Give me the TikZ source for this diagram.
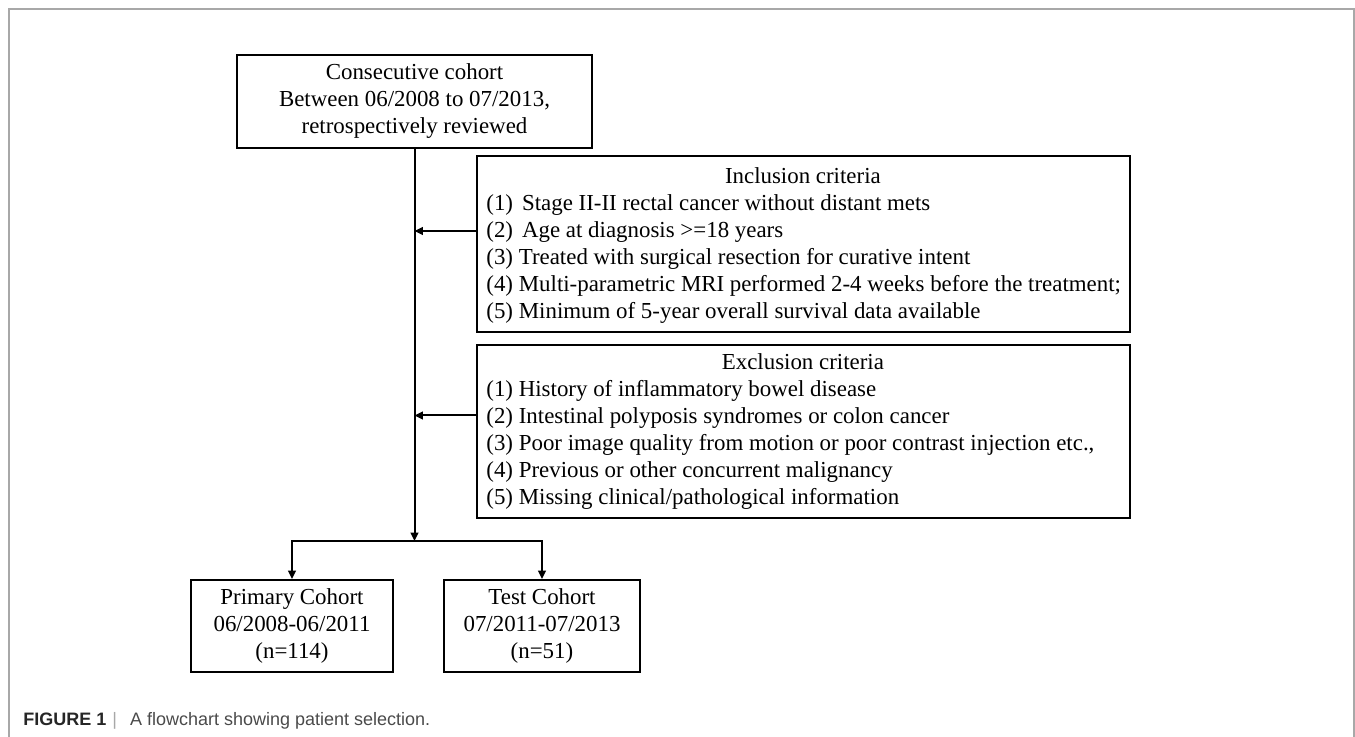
\documentclass[tikz,border=0pt]{standalone}
\usepackage{fontspec}
\setmainfont{Liberation Serif}
\newfontfamily\capfont{Liberation Sans}
\usetikzlibrary{arrows.meta}
\definecolor{framegray}{HTML}{A8A8A8}
\definecolor{captxt}{HTML}{4A4A4A}
\begin{document}
\begin{tikzpicture}[x=0.5pt,y=-0.5pt,
  txtfont/.style={font=\fontsize{11.45}{13.5}\selectfont},
  box/.style={draw, line width=1pt, inner xsep=5pt, inner ysep=0pt, txtfont},
  critbox/.style={draw, line width=1pt, inner sep=0pt, minimum width=326.5pt},
  crittext/.style={txtfont, inner sep=0pt, align=left, anchor=west},
  arr/.style={line width=1pt, -{Triangle[length=4.2pt,width=3.8pt]}}]
\useasboundingbox (0,0) rectangle (1355,737);
\draw[framegray, line width=0.9pt] (9,737) -- (9,9) -- (1354,9) -- (1354,737);

\node[box, minimum width=177.5pt, minimum height=46.5pt, align=center] (top) at (414.5,101.5)
  {Consecutive cohort\\Between 06/2008 to 07/2013,\\retrospectively reviewed};

\node[critbox, minimum height=88pt] (inc) at (803.5,244) {};
\node[crittext] (inctxt) at ([xshift=5pt,yshift=-1pt]inc.west)
  {\makebox[316.5pt][c]{Inclusion criteria}\\
   (1)\hspace{4.5pt}Stage II-II rectal cancer without distant mets\\
   (2)\hspace{4.5pt}Age at diagnosis >=18 years\\
   (3) Treated with surgical resection for curative intent\\
   (4) Multi-parametric MRI performed 2-4 weeks before the treatment;\\
   (5) Minimum of 5-year overall survival data available};

\node[critbox, minimum height=86.5pt] (exc) at (803.5,431.5) {};
\node[crittext] (exctxt) at ([xshift=5pt]exc.west)
  {\makebox[316.5pt][c]{Exclusion criteria}\\
   (1) History of inflammatory bowel disease\\
   (2) Intestinal polyposis syndromes or colon cancer\\
   (3) Poor image quality from motion or poor contrast injection etc.,\\
   (4) Previous or other concurrent malignancy\\
   (5) Missing clinical/pathological information};

\node[box, minimum width=101pt, minimum height=46pt, align=center] (pri) at (292,626)
  {Primary Cohort\\06/2008-06/2011\\(n=114)};
\node[box, minimum width=98pt, minimum height=46pt, align=center] (tst) at (542,626)
  {Test Cohort\\07/2011-07/2013\\(n=51)};

\coordinate (j) at (414.5,541);
\draw[arr] (top.south) -- (j);
\draw[arr] ([yshift=6.5pt]inc.west) -- ([yshift=6.5pt]inc.west -| top.south);
\draw[arr] ([yshift=8pt]exc.west) -- ([yshift=8pt]exc.west -| top.south);
\draw[arr] (j) -| (pri.north);
\draw[arr] (j) -| (tst.north);

\node[anchor=west, inner sep=0pt, font=\capfont\fontsize{9}{11}\selectfont, text=captxt] (cap) at (23,721)
  {{\bfseries\color{black!85}FIGURE 1}\hspace{3pt}{\color{framegray}|}\hspace{6.5pt}A flowchart showing patient selection.};
\end{tikzpicture}
\end{document}
